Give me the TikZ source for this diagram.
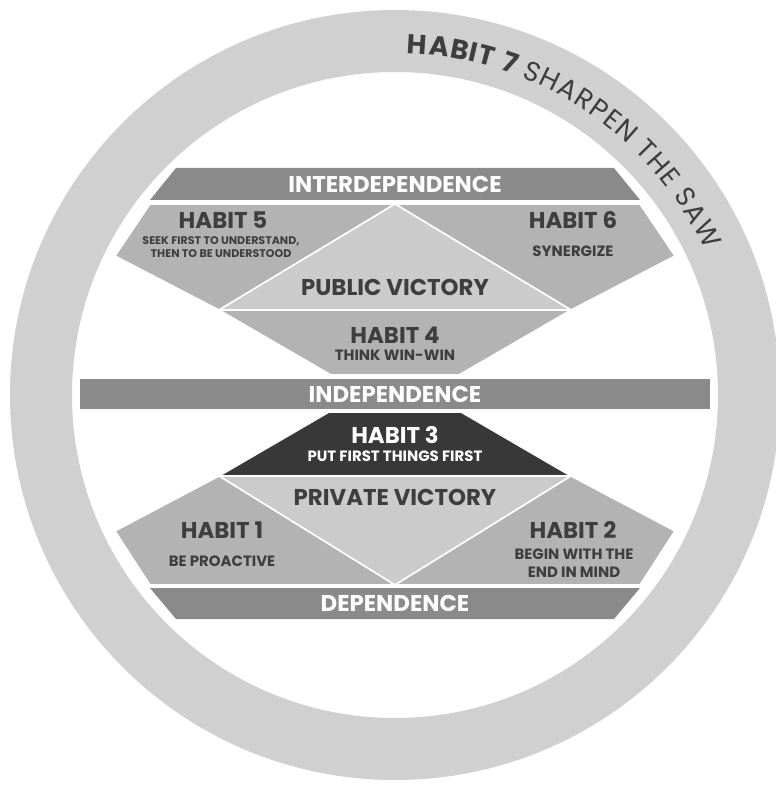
\documentclass[tikz,border=0pt]{standalone}
\usepackage{fontspec}
\setmainfont{Poppins}
\usetikzlibrary{decorations.text}
\definecolor{ring}{RGB}{208,208,208}
\definecolor{band}{RGB}{138,138,138}
\definecolor{habit}{RGB}{179,179,179}
\definecolor{victory}{RGB}{203,203,203}
\definecolor{dark}{RGB}{56,56,56}
\definecolor{ink}{RGB}{62,62,62}

\begin{document}
\begin{tikzpicture}[x=0.02cm, y=0.02cm,
    piece/.style={draw=white, line width=0.9pt, line join=round},
    head/.style={font=\bfseries\fontsize{13}{13}\selectfont, text=ink, inner sep=0pt},
    sub/.style={font=\bfseries\fontsize{8.5}{10.5}\selectfont, text=ink, inner sep=0pt, align=center},
    tiny/.style={font=\bfseries\fontsize{6.3}{7.4}\selectfont, text=ink, inner sep=0pt, align=center}]
  \useasboundingbox (-395,-390) rectangle (380,395);

  % Outer ring
  \fill[ring, even odd rule] (0,0) circle (385) (0,0) circle (323);
  \path[decorate, decoration={text along path, text align={fit to path},
      text={|\fontsize{15.5}{15.5}\selectfont\bfseries\color{ink}|HABIT 7 |\fontsize{15.5}{15.5}\selectfont\mdseries\color{ink}|SHARPEN THE SAW}}]
    (88:342) arc[start angle=88, end angle=25, radius=342];

  % Bands
  \fill[band] (-219,227) -- (219,227) -- (245,195) -- (-245,195) -- cycle;
  \fill[band] (-315,16) rectangle (315,-14);
  \fill[band] (-245,-193) -- (245,-193) -- (219,-224) -- (-219,-224) -- cycle;

  % Upper half: public victory
  \filldraw[piece, fill=habit] (-245,191) -- (0,191) -- (-176,85) -- (-280,139) -- cycle;
  \filldraw[piece, fill=habit] (245,191) -- (0,191) -- (176,85) -- (280,139) -- cycle;
  \filldraw[piece, fill=victory] (0,191) -- (176,85) -- (-176,85) -- cycle;
  \filldraw[piece, fill=habit] (-176,85) -- (176,85) -- (64,20) -- (-64,20) -- cycle;

  % Lower half: private victory
  \filldraw[piece, fill=dark] (-66,-17) -- (66,-17) -- (176,-81) -- (-176,-81) -- cycle;
  \filldraw[piece, fill=victory] (-176,-81) -- (176,-81) -- (0,-190) -- cycle;
  \filldraw[piece, fill=habit] (-176,-81) -- (0,-190) -- (-245,-190) -- (-280,-136) -- cycle;
  \filldraw[piece, fill=habit] (176,-81) -- (0,-190) -- (245,-190) -- (280,-136) -- cycle;

  % Band labels
  \foreach \name/\y/\txt in {inter/211/INTERDEPENDENCE, indep/1/INDEPENDENCE, dep/-208/DEPENDENCE}
    \node[head, text=white] (\name) at (0,\y) {\txt};

  % Habit titles
  \foreach \n/\x/\y in {5/-172/175, 6/178/175, 4/0/60, 1/-173/-135, 2/178/-135}
    \node[head] (h\n) at (\x,\y) {HABIT \n};
  \node[head, text=white] (h3) at (0,-40) {HABIT 3};
  \node[head] (pub) at (0,108) {PUBLIC VICTORY};
  \node[head] (priv) at (0,-102) {PRIVATE VICTORY};

  % Habit descriptions
  \node[tiny] (d5) at (-174,148) {SEEK FIRST TO UNDERSTAND,\\THEN TO BE UNDERSTOOD};
  \node[sub] (d6) at (178,144) {SYNERGIZE};
  \node[sub] (d4) at (0,40) {THINK WIN-WIN};
  \node[sub, text=white] (d3) at (0,-61) {PUT FIRST THINGS FIRST};
  \node[sub] (d1) at (-173,-166) {BE PROACTIVE};
  \node[sub] (d2) at (179,-168) {BEGIN WITH THE\\END IN MIND};
\end{tikzpicture}
\end{document}
